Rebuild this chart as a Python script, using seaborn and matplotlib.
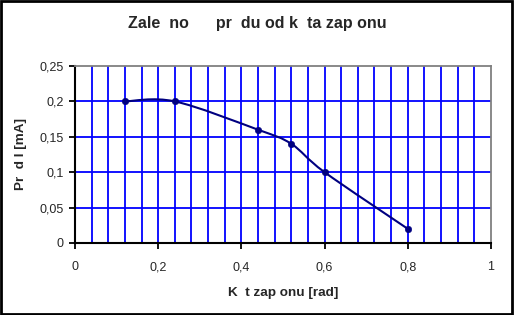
import numpy as np
import pandas as pd
import matplotlib
matplotlib.use("Agg")
import matplotlib.pyplot as plt
import seaborn as sns
from matplotlib.path import Path
from matplotlib.patches import PathPatch, Rectangle

angle = [0.12, 0.24, 0.44, 0.52, 0.60, 0.80]
current = [0.20, 0.20, 0.16, 0.14, 0.10, 0.02]
title = "Zale  no      pr  du od k  ta zap onu"
xlabel = "K  t zap onu [rad]"
ylabel = "Pr  d I [mA]"
xticks = [0, 0.2, 0.4, 0.6, 0.8, 1.0]
xticklabels = ["0", "0,2", "0,4", "0,6", "0,8", "1"]
yticks = [0, 0.05, 0.10, 0.15, 0.20, 0.25]
yticklabels = ["0", "0,05", "0,1", "0,15", "0,2", "0,25"]

sns.set_style("white")
plt.rcParams['font.family'] = ['Liberation Sans', 'DejaVu Sans']

df = pd.DataFrame({"x": angle, "y": current})
fig = plt.figure(figsize=(5.14, 3.15), dpi=100)
ax = fig.add_axes([0.1459, 0.2286, 0.8093, 0.5619])

ax.set_xlim(0, 1)
ax.set_ylim(0, 0.25)
for gx in np.arange(0.04, 1.0, 0.04):
    ax.axvline(gx, color="#0000FF", lw=1.3, zorder=1)
for gy in [0.05, 0.10, 0.15, 0.20]:
    ax.axhline(gy, color="#0000FF", lw=1.3, zorder=1)

# smoothed line (Bezier through data points, like Excel smoothing)
xs = np.array(angle); ys = np.array(current)
verts = [(xs[0], ys[0])]
codes = [Path.MOVETO]
t = 1/6
for i in range(len(xs) - 1):
    p0 = np.array([xs[max(i-1, 0)], ys[max(i-1, 0)]])
    p1 = np.array([xs[i], ys[i]])
    p2 = np.array([xs[i+1], ys[i+1]])
    p3 = np.array([xs[min(i+2, len(xs)-1)], ys[min(i+2, len(xs)-1)]])
    c1 = p1 + (p2 - p0) * t
    c2 = p2 - (p3 - p1) * t
    verts += [tuple(c1), tuple(c2), tuple(p2)]
    codes += [Path.CURVE4] * 3
ax.add_patch(PathPatch(Path(verts, codes), fc="none", ec="#000080", lw=1.5, zorder=3))
sns.scatterplot(data=df, x="x", y="y", ax=ax, color="#000080", s=22, edgecolor="#000080", zorder=4, legend=False)

ax.set_xticks(xticks)
ax.set_xticklabels(xticklabels, fontsize=9)
ax.set_yticks(yticks)
ax.set_yticklabels(yticklabels, fontsize=9)
ax.tick_params(axis="both", direction="out", length=4, width=1.3, color="black", pad=4,
               bottom=True, left=True)
ax.tick_params(axis="x", pad=9)
for s in ["left", "bottom"]:
    ax.spines[s].set_color("black"); ax.spines[s].set_linewidth(1.5)
for s in ["top", "right"]:
    ax.spines[s].set_color("#808080"); ax.spines[s].set_linewidth(1.3)
ax.set_xlabel(xlabel, fontsize=9.7, fontweight="bold", labelpad=10)
ax.set_ylabel(ylabel, fontsize=9.7, fontweight="bold", labelpad=9)
fig.text(0.5, 0.925, title, ha="center", va="center", fontsize=11.5, fontweight="bold")

fig.patches.append(Rectangle((0.002, 0.003), 0.995, 0.994, transform=fig.transFigure,
                             fill=False, ec="black", lw=2))
fig.savefig("out.png", dpi=100)
